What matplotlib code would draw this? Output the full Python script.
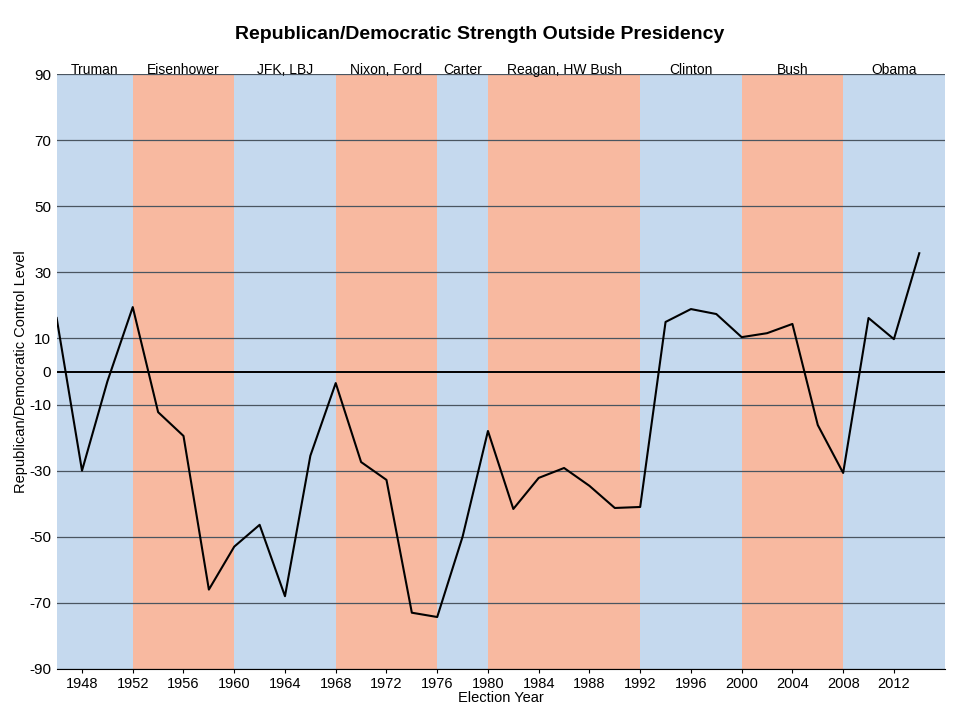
import matplotlib.pyplot as plt

plt.rcParams['font.family'] = ['Liberation Sans', 'DejaVu Sans']
plt.rcParams['axes.unicode_minus'] = False

# election years and control level
years = [1946, 1948, 1950, 1952, 1954, 1956, 1958, 1960, 1962, 1964, 1966, 1968,
         1970, 1972, 1974, 1976, 1978, 1980, 1982, 1984, 1986, 1988, 1990, 1992,
         1994, 1996, 1998, 2000, 2002, 2004, 2006, 2008, 2010, 2012, 2014]
level = [16.2, -30, -3, 19.5, -12.3, -19.5, -66, -53, -46.4, -68, -25.5, -3.5,
         -27.4, -32.8, -73, -74.3, -50, -18, -41.6, -32.2, -29.2, -34.6, -41.3, -41,
         15, 18.9, 17.4, 10.4, 11.6, 14.4, -16.2, -30.7, 16.2, 9.8, 35.8]

# presidential terms: name, start, end, party
presidents = ['Truman', 'Eisenhower', 'JFK, LBJ', 'Nixon, Ford', 'Carter',
              'Reagan, HW Bush', 'Clinton', 'Bush', 'Obama']
term_start = [1946, 1952, 1960, 1968, 1976, 1980, 1992, 2000, 2008]
term_end = [1952, 1960, 1968, 1976, 1980, 1992, 2000, 2008, 2016]
party = ['D', 'R', 'D', 'R', 'D', 'R', 'D', 'R', 'D']

colors = {'D': '#c5d9ee', 'R': '#f8b9a0'}

fig = plt.figure(figsize=(9.6, 7.2), dpi=100)
ax = fig.add_axes([0.059, 0.071, 0.925, 0.826])

for name, s, e, p in zip(presidents, term_start, term_end, party):
    ax.axvspan(s, e, color=colors[p], lw=0, zorder=0)
    ax.text((s + e) / 2, 89.2, name, ha='center', va='bottom', fontsize=10)

yticks = [90, 70, 50, 30, 10, 0, -10, -30, -50, -70, -90]
for y in yticks:
    if y == 0:
        ax.axhline(y, color='black', lw=1.4, zorder=1)
    else:
        ax.axhline(y, color='#4a5560', lw=0.9, zorder=1)

ax.plot(years, level, color='black', lw=1.5, zorder=3)

ax.set_xlim(1946, 2016)
ax.set_ylim(-90, 90)
ax.set_yticks(yticks)
ax.set_xticks(range(1948, 2016, 4))
ax.tick_params(axis='y', length=0, labelsize=11, pad=4)
ax.tick_params(axis='x', length=3, labelsize=10.5, pad=3)

for side in ['top', 'right', 'left']:
    ax.spines[side].set_visible(False)
ax.spines['bottom'].set_color('black')

ax.set_xlabel('Election Year', fontsize=10.5, labelpad=0)
ax.set_ylabel('Republican/Democratic Control Level', fontsize=10.5, labelpad=1)

fig.suptitle('Republican/Democratic Strength Outside Presidency',
             fontsize=14, fontweight='bold', y=0.964)

fig.savefig('out.png', dpi=100)
